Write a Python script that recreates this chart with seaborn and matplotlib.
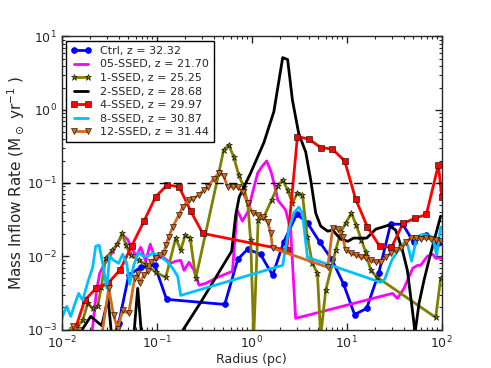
import matplotlib
matplotlib.use("Agg")
import matplotlib.pyplot as plt
import seaborn as sns

# Mass inflow rate (Msun/yr) vs radius (pc)

ctrl_r = [0.035, 0.0398, 0.0507, 0.0679, 0.0953, 0.127, 0.52, 0.713, 0.908, 1.24,
          1.66, 2.17, 2.98, 3.88, 5.20, 6.95, 9.29, 12.1, 16.2, 21.7,
          29.0, 38.8, 50.7, 67.9, 90.8, 100.0]
ctrl_m = [0.0008, 0.00121, 0.0055, 0.00707, 0.00753, 0.00258, 0.0022, 0.0091, 0.0125, 0.0106,
          0.0055, 0.0156, 0.0376, 0.0283, 0.0156, 0.0091, 0.00413, 0.0016, 0.00194, 0.00585,
          0.0274, 0.0274, 0.0156, 0.0194, 0.0151, 0.0156]

ssed05_r = [0.0207, 0.0233, 0.0251, 0.0277, 0.0313, 0.0352, 0.0388, 0.0436, 0.0492, 0.0546,
            0.0608, 0.0679, 0.0766, 0.0855, 0.0975, 0.110, 0.1245, 0.140, 0.1585, 0.179,
            0.194, 0.219, 0.247, 0.279, 0.328, 0.436, 0.627, 0.703, 0.798, 0.908,
            1.025, 1.156, 1.274, 1.438, 1.60, 1.79, 1.88, 2.28, 2.57, 2.90,
            30.3, 34.2, 40.1, 49.5, 55.9, 60.1, 70.7, 80.4, 86.5, 100.0]
ssed05_m = [0.00083, 0.00342, 0.00585, 0.00753, 0.0094, 0.0121, 0.0151, 0.0194, 0.0171, 0.0129,
            0.0100, 0.0133, 0.00855, 0.0146, 0.00881, 0.0100, 0.0091, 0.00802, 0.00855, 0.00881,
            0.00643, 0.00827, 0.00643, 0.00401, 0.00427, 0.00515, 0.00623, 0.0427, 0.0302, 0.0401,
            0.0753, 0.137, 0.1656, 0.200, 0.1416, 0.0802, 0.0585, 0.0427, 0.0227, 0.00142,
            0.00311, 0.00266, 0.00365, 0.00685, 0.00753, 0.00753, 0.0100, 0.01064, 0.0094, 0.0094]

ssed1_r = [0.0102, 0.01297, 0.01462, 0.01663, 0.0188, 0.0212, 0.0239, 0.0261, 0.0290, 0.0342,
           0.0385, 0.0434, 0.0472, 0.0532, 0.0647, 0.0766, 0.0975, 0.1245, 0.1585, 0.179,
           0.1995, 0.2254, 0.2576, 0.453, 0.507, 0.573, 0.647, 0.730, 0.824, 0.908,
           0.975, 1.05, 1.17, 1.34, 1.62, 1.88, 2.12, 2.39, 2.68, 3.03,
           3.42, 3.86, 4.35, 4.92, 5.32, 6.01, 7.66, 8.65, 9.75, 11.2,
           12.6, 14.3, 15.85, 17.9, 21.0, 86.5, 97.5]
ssed1_m = [0.00083, 0.00106, 0.00113, 0.00133, 0.00227, 0.00194, 0.00207, 0.00376, 0.0094, 0.0121,
           0.0146, 0.0207, 0.01416, 0.01033, 0.00881, 0.00777, 0.00604, 0.00515, 0.01766, 0.0121,
           0.0194, 0.01766, 0.0050, 0.1416, 0.283, 0.332, 0.227, 0.129, 0.0881, 0.0532,
           0.01656, 0.0008, 0.0311, 0.0342, 0.0585, 0.091, 0.110, 0.0802, 0.0532, 0.0730,
           0.0686, 0.0182, 0.00802, 0.00585, 0.0008, 0.00342, 0.0121, 0.0213, 0.0283, 0.0388,
           0.0266, 0.01656, 0.01135, 0.00643, 0.00515, 0.00146, 0.0050]

ssed2_r = [0.01472, 0.0202, 0.0264, 0.0308, 0.0336, 0.0573, 0.0631, 0.0695, 0.1706, 0.290,
           0.615, 0.679, 0.738, 0.975, 1.34, 1.71, 2.12, 2.39, 2.68, 3.13,
           3.70, 4.18, 4.72, 5.32, 6.31, 7.12, 8.65, 10.3, 11.8, 16.2,
           20.2, 27.7, 32.8, 38.6, 43.5, 49.2, 52.4, 57.7, 65.1, 76.6, 97.5]
ssed2_m = [0.0008, 0.00151, 0.00113, 0.00266, 0.0008, 0.0008, 0.00365, 0.0008, 0.0008, 0.00234,
           0.0117, 0.0365, 0.0643, 0.137, 0.353, 0.94, 5.15, 4.84, 1.37, 0.469,
           0.266, 0.110, 0.0388, 0.0258, 0.0220, 0.0227, 0.0171, 0.0160, 0.0177, 0.0177,
           0.0234, 0.0266, 0.0227, 0.0121, 0.00643, 0.00182, 0.0009, 0.00227, 0.00469, 0.0110, 0.0353]

ssed4_r = [0.0132, 0.01746, 0.0232, 0.0310, 0.0411, 0.0546, 0.0735, 0.0975, 0.129, 0.172,
           0.228, 0.305, 2.34, 3.03, 4.01, 5.32, 7.07, 9.53, 12.4, 16.5,
           22.2, 29.6, 39.2, 52.0, 69.0, 92.3, 100.0]
ssed4_m = [0.00083, 0.00250, 0.00370, 0.00434, 0.00649, 0.01384, 0.0302, 0.0649, 0.0939, 0.0889,
           0.0413, 0.0205, 0.0121, 0.431, 0.397, 0.305, 0.290, 0.200, 0.0604, 0.0252,
           0.0137, 0.0132, 0.0281, 0.0328, 0.0373, 0.177, 0.0649]

ssed8_r = [0.0093, 0.0102, 0.01129, 0.01244, 0.0137, 0.0151, 0.01663, 0.0188, 0.0212, 0.0228,
           0.0248, 0.0270, 0.0298, 0.0320, 0.0352, 0.0398, 0.0438, 0.0483, 0.0520, 0.0573,
           0.0647, 0.0713, 0.0803, 0.0908, 0.1026, 0.1156, 0.1306, 0.1472, 0.1663, 0.179,
           2.12, 2.45, 2.77, 3.13, 3.42, 3.86, 22.8, 25.1, 29.8, 34.4,
           39.8, 43.9, 48.3, 54.6, 63.1, 71.3, 80.4, 88.6, 97.5]
ssed8_m = [0.0009, 0.00151, 0.00207, 0.00151, 0.0022, 0.00311, 0.0025, 0.0044, 0.00707, 0.0137,
           0.01416, 0.00802, 0.00365, 0.0100, 0.00881, 0.00802, 0.01064, 0.00802, 0.00413, 0.00753,
           0.01135, 0.0100, 0.0100, 0.0110, 0.01033, 0.0094, 0.00827, 0.00685, 0.00532, 0.00292,
           0.00753, 0.0227, 0.0388, 0.0469, 0.0388, 0.0097, 0.0044, 0.00484, 0.00881, 0.0117,
           0.0151, 0.01416, 0.00855, 0.0182, 0.0200, 0.0194, 0.0182, 0.01033, 0.0250]

ssed12_r = [0.01129, 0.01306, 0.0151, 0.0264, 0.0313, 0.0352, 0.0388, 0.0438, 0.0507, 0.0586,
            0.0631, 0.0662, 0.0730, 0.0803, 0.0865, 0.0975, 0.1076, 0.1186, 0.1245, 0.1337,
            0.1472, 0.1706, 0.188, 0.217, 0.239, 0.277, 0.313, 0.344, 0.398, 0.450,
            0.507, 0.558, 0.631, 0.713, 0.804, 0.908, 1.025, 1.156, 1.306, 1.474,
            1.585, 1.66, 6.31, 7.12, 8.04, 9.08, 9.75, 11.0, 12.4, 14.0,
            15.85, 17.9, 20.2, 22.8, 25.7, 29.0, 32.8, 37.0, 41.8, 47.2,
            53.2, 60.1, 67.9, 76.6, 86.5, 97.5]
ssed12_m = [0.00083, 0.0011, 0.00097, 0.00083, 0.00365, 0.00156, 0.00103, 0.00182, 0.00166, 0.0050,
            0.00585, 0.00427, 0.0055, 0.00623, 0.00827, 0.0094, 0.01033, 0.0110, 0.01416, 0.0182,
            0.0250, 0.0365, 0.0469, 0.0585, 0.0604, 0.0686, 0.0802, 0.0881, 0.1135, 0.137,
            0.1248, 0.0881, 0.0881, 0.0881, 0.0753, 0.0532, 0.0388, 0.0365, 0.0342, 0.0292,
            0.0207, 0.0129, 0.00707, 0.0242, 0.0234, 0.0182, 0.0121, 0.0110, 0.01033, 0.0097,
            0.0094, 0.00881, 0.00827, 0.00827, 0.0097, 0.0110, 0.0121, 0.0129, 0.0156, 0.01766,
            0.01766, 0.0171, 0.01766, 0.0171, 0.01656, 0.0160]

labels = ["Ctrl, z = 32.32", "05-SSED, z = 21.70", "1-SSED, z = 25.25", "2-SSED, z = 28.68",
          "4-SSED, z = 29.97", "8-SSED, z = 30.87", "12-SSED, z = 31.44"]

series = [
    (ctrl_r, ctrl_m, "#0000ff", dict(marker="o", markersize=4, markeredgecolor="#0000ff")),
    (ssed05_r, ssed05_m, "#ff00ff", {}),
    (ssed1_r, ssed1_m, "#808000", dict(marker="*", markersize=4.5, markeredgecolor="k", markeredgewidth=0.4)),
    (ssed2_r, ssed2_m, "k", {}),
    (ssed4_r, ssed4_m, "#ff0000", dict(marker="s", markersize=4, markeredgecolor="k", markeredgewidth=0.4)),
    (ssed8_r, ssed8_m, "#00bfff", {}),
    (ssed12_r, ssed12_m, "#d2691e", dict(marker="v", markersize=4.2, markeredgecolor="k", markeredgewidth=0.4)),
]

sns.set_style("ticks")
plt.rcParams["font.family"] = ["DejaVu Sans"]

fig = plt.figure(figsize=(4.91, 3.68), dpi=100)
ax = fig.add_axes([61.7 / 491, 38.5 / 368, 380 / 491, 293 / 368])
ax.set_xscale("log")
ax.set_yscale("log")

for (r, m, col, mk), lab in zip(series, labels):
    sns.lineplot(x=r, y=m, ax=ax, color=col, linewidth=2, sort=False,
                 estimator=None, label=lab, **mk)

ax.axhline(0.1, color="k", linestyle="--", linewidth=1, dashes=(6, 4))

ax.set_xlim(1e-2, 1e2)
ax.set_ylim(1e-3, 1e1)
ax.set_xlabel("Radius (pc)", fontsize=9, labelpad=1.5)
ax.set_ylabel(r"Mass Inflow Rate (M$_\odot$ yr$^{-1}$ )", fontsize=11, labelpad=0)
ax.tick_params(which="both", direction="in", top=True, right=True, labelsize=9, pad=3.5)
ax.tick_params(which="major", length=5, width=1)
ax.tick_params(which="minor", length=2.5, width=0.8)
for s in ax.spines.values():
    s.set_linewidth(1)

leg = ax.legend(loc="upper left", fontsize=8, numpoints=2, handlelength=1.8,
                labelspacing=0.32, borderpad=0.45, borderaxespad=0.4, fancybox=False,
                framealpha=1, edgecolor="k")
leg.get_frame().set_linewidth(1)

fig.savefig("out.png", dpi=100)
